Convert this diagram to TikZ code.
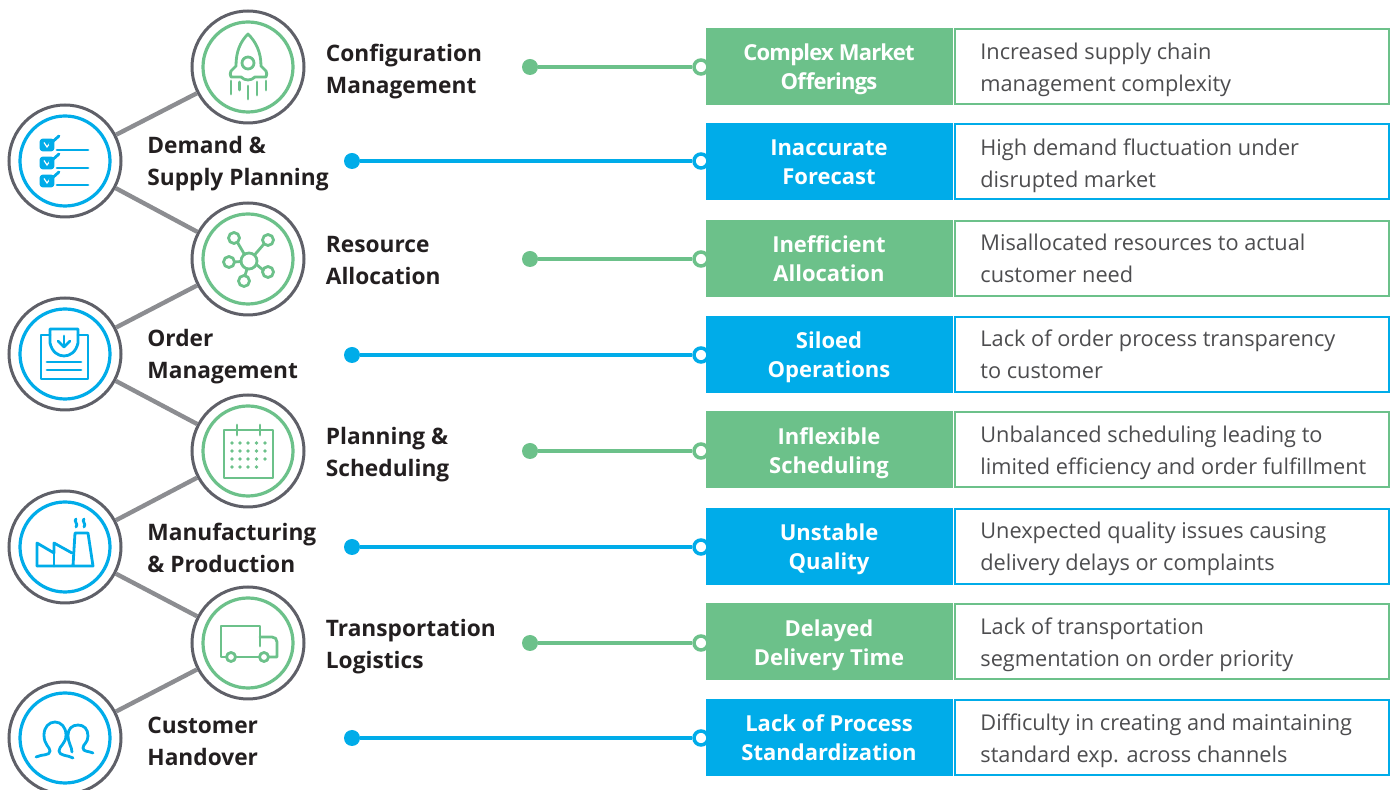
\documentclass[tikz,border=0pt]{standalone}
\usepackage{fontspec}
\setmainfont{Open Sans}
\definecolor{leafgreen}{HTML}{6CC18A}
\definecolor{skyblue}{HTML}{00ACE9}
\definecolor{ringgray}{HTML}{5F6068}
\definecolor{spokegray}{HTML}{8C8D91}
\definecolor{inkblack}{HTML}{231F20}
\definecolor{notegray}{HTML}{4D4D4F}
\tikzset{
 hub/.style={circle,draw=ringgray,line width=1.5pt,fill=white,minimum size=56pt,inner sep=0pt},
 ringg/.style={circle,draw=leafgreen,line width=1.6pt,minimum size=45pt,inner sep=0pt},
 ringb/.style={circle,draw=skyblue,line width=1.6pt,minimum size=45pt,inner sep=0pt},
 spoke/.style={draw=spokegray,line width=2.2pt},
 linkg/.style={draw=leafgreen,line width=1.75pt},
 linkb/.style={draw=skyblue,line width=1.75pt},
 dotg/.style={circle,fill=leafgreen,minimum size=8pt,inner sep=0pt},
 dotb/.style={circle,fill=skyblue,minimum size=8pt,inner sep=0pt},
 portg/.style={circle,draw=leafgreen,line width=1.75pt,fill=white,minimum size=7pt,inner sep=0pt},
 portb/.style={circle,draw=skyblue,line width=1.75pt,fill=white,minimum size=7pt,inner sep=0pt},
 evenlines/.style={execute at begin node=\vphantom{Ag},execute at end node=\vphantom{Ag}},
 stage/.style={evenlines,anchor=west,align=left,inner sep=0pt,text=inkblack,font=\fontsize{11.35}{16}\selectfont\bfseries},
 headg/.style={anchor=west,fill=leafgreen,minimum width=123.5pt,minimum height=38.5pt,inner sep=0pt},
 headb/.style={headg,fill=skyblue},
 headtext/.style={evenlines,text=white,align=center,inner sep=0pt,font=\fontsize{11}{14.7}\selectfont\bfseries},
 noteg/.style={anchor=west,draw=leafgreen,line width=1.1pt,fill=white,minimum width=217pt,minimum height=37.5pt,inner sep=0pt},
 noteb/.style={noteg,draw=skyblue},
 notetext/.style={evenlines,anchor=west,text=notegray,align=left,inner sep=0pt,font=\fontsize{10.87}{16}\selectfont},
 iconG/.style={draw=leafgreen,line width=1.4pt,line cap=round,line join=round},
 iconB/.style={draw=skyblue,line width=1.4pt,line cap=round,line join=round},
}
\begin{document}
\begin{tikzpicture}[x=0.5pt,y=-0.5pt]
\useasboundingbox (0,0) rectangle (1399,790);
% circles
\node[hub] (cfg) at (248,67) {};
\node[hub] (dem) at (65,161) {};
\node[hub] (res) at (248,259) {};
\node[hub] (ord) at (65,354) {};
\node[hub] (pln) at (248,451) {};
\node[hub] (mfg) at (65,547) {};
\node[hub] (trn) at (248,643) {};
\node[hub] (cus) at (65,738) {};
\node[ringg] at (cfg) {};
\node[ringb] at (dem) {};
\node[ringg] at (res) {};
\node[ringb] at (ord) {};
\node[ringg] at (pln) {};
\node[ringb] at (mfg) {};
\node[ringg] at (trn) {};
\node[ringb] at (cus) {};
\draw[spoke] (dem) -- (cfg);
\draw[spoke] (dem) -- (res);
\draw[spoke] (ord) -- (res);
\draw[spoke] (ord) -- (pln);
\draw[spoke] (mfg) -- (pln);
\draw[spoke] (mfg) -- (trn);
\draw[spoke] (cus) -- (trn);
% stage labels
\node[stage] (lcfg) at (325.5,72) {Configuration\\Management};
\node[stage] (ldem) at (147,164) {Demand \&\\Supply Planning};
\node[stage] (lres) at (325.5,263) {Resource\\Allocation};
\node[stage] (lord) at (147,357) {Order\\Management};
\node[stage] (lpln) at (325.5,455) {Planning \&\\Scheduling};
\node[stage] (lmfg) at (147,551) {Manufacturing\\\& Production};
\node[stage] (ltrn) at (325.5,647) {Transportation\\Logistics};
\node[stage] (lcus) at (147,744) {Customer\\Handover};
% rows
\node[dotg] (d1) at (530,67) {};
\node[dotb] (d2) at (352,161) {};
\node[dotg] (d3) at (530,259) {};
\node[dotb] (d4) at (352,355) {};
\node[dotg] (d5) at (530,451) {};
\node[dotb] (d6) at (352,547) {};
\node[dotg] (d7) at (530,643) {};
\node[dotb] (d8) at (352,738) {};
\node[portg] (p1) at (701,67) {};
\node[portb] (p2) at (701,161) {};
\node[portg] (p3) at (701,259) {};
\node[portb] (p4) at (701,355) {};
\node[portg] (p5) at (701,451) {};
\node[portb] (p6) at (701,547) {};
\node[portg] (p7) at (701,643) {};
\node[portb] (p8) at (701,738) {};
\draw[linkg] (d1) -- (p1);
\draw[linkb] (d2) -- (p2);
\draw[linkg] (d3) -- (p3);
\draw[linkb] (d4) -- (p4);
\draw[linkg] (d5) -- (p5);
\draw[linkb] (d6) -- (p6);
\draw[linkg] (d7) -- (p7);
\draw[linkb] (d8) -- (p8);
\node[noteg] (n1) at (954,66.5) {};
\node[noteb] (n2) at (954,161.5) {};
\node[noteg] (n3) at (954,258.5) {};
\node[noteb] (n4) at (954,354.5) {};
\node[noteg] (n5) at (954,449.5) {};
\node[noteb] (n6) at (954,546.5) {};
\node[noteg] (n7) at (954,641.5) {};
\node[noteb] (n8) at (954,737.5) {};
\node[notetext] (t1) at (980,70) {Increased supply chain\\management complexity};
\node[notetext] (t2) at (980,166) {High demand fluctuation under\\disrupted market};
\node[notetext] (t3) at (980,261) {Misallocated resources to actual\\customer need};
\node[notetext] (t4) at (980,357) {Lack of order process transparency\\to customer};
\node[notetext] (t5) at (980,453) {Unbalanced scheduling leading to\\limited efficiency and order fulfillment};
\node[notetext] (t6) at (980,549) {Unexpected quality issues causing\\delivery delays or complaints};
\node[notetext] (t7) at (980,645) {Lack of transportation\\segmentation on order priority};
\node[notetext] (t8) at (980,741) {Difficulty in creating and maintaining\\standard exp. across channels};
\node[headg] (h1) at (706,66.5) {};
\node[headb] (h2) at (706,161.5) {};
\node[headg] (h3) at (706,258.5) {};
\node[headb] (h4) at (706,354.5) {};
\node[headg] (h5) at (706,449.5) {};
\node[headb] (h6) at (706,546.5) {};
\node[headg] (h7) at (706,641.5) {};
\node[headb] (h8) at (706,737.5) {};
\node[headtext] (q1) at (829,69.5) {\addfontfeature{LetterSpace=-3.5}Complex Market\\\addfontfeature{LetterSpace=-3.5}Offerings};
\node[headtext] (q2) at (829,165) {Inaccurate\\Forecast};
\node[headtext] (q3) at (829,261.5) {Inefficient\\Allocation};
\node[headtext] (q4) at (829,357.5) {Siloed\\Operations};
\node[headtext] (q5) at (829,453) {Inflexible\\Scheduling};
\node[headtext] (q6) at (829,549) {Unstable\\Quality};
\node[headtext] (q7) at (829,645) {Delayed\\Delivery Time};
\node[headtext] (q8) at (829,740.5) {Lack of Process\\Standardization};
% rocket
\draw[iconG] (248,34) .. controls (240,42) and (236,52) .. (236,66) -- (231,71) .. controls (230,73) and (230,75) .. (231,77) -- (241,77) .. controls (245,81) and (251,81) .. (255,77) -- (266,77) .. controls (267,75) and (267,73) .. (266,71) -- (261,66) .. controls (261,52) and (256,42) .. (248,34) -- cycle;
\draw[iconG] (248,63) circle (6);
\draw[iconG] (231,81) -- (231,94);
\draw[iconG] (239.5,82) -- (239.5,90);
\draw[iconG] (248,86) -- (248,99);
\draw[iconG] (257,82) -- (257,95);
\draw[iconG] (266,81) -- (266,90);
% checklist
\draw[iconB,fill=skyblue,rounded corners=1pt] (41,140) rectangle (53,150);
\draw[iconB,fill=skyblue,rounded corners=1pt] (41,158) rectangle (53,168);
\draw[iconB,fill=skyblue,rounded corners=1pt] (41,176) rectangle (53,186);
\draw[draw=white,line width=0.6pt] (44,142.5) -- (47,147) -- (50,143);
\draw[draw=white,line width=0.6pt] (44,160.5) -- (47,165) -- (50,161);
\draw[draw=white,line width=0.6pt] (44,178.5) -- (47,183) -- (50,179);
\draw[iconB] (50,144) -- (59,136);
\draw[iconB] (50,162) -- (59,154);
\draw[iconB] (50,180) -- (59,172);
\draw[iconB] (57,150) -- (88,150);
\draw[iconB] (57,168) -- (88,168);
\draw[iconB] (57,185) -- (88,185);
% network
\draw[iconG] (249,261) circle (8);
\draw[iconG] (234,238) circle (5.5);
\draw[iconG] (268,240) circle (5.5);
\draw[iconG] (229,262) circle (5.5);
\draw[iconG] (268,272) circle (5.5);
\draw[iconG] (244,281) circle (5.5);
\draw[iconG] (237.5,242.5) -- (244.5,254.5);
\draw[iconG] (264,244) -- (254.5,255);
\draw[iconG] (234.5,262) -- (241,261.5);
\draw[iconG] (263,270) -- (256.5,264.5);
\draw[iconG] (245,275.5) -- (247,269);
% order sheet
\draw[iconB] (50,335) -- (41,335) -- (41,379) -- (88,379) -- (88,335) -- (78,335);
\draw[iconB] (50,329) -- (78,329) -- (78,343) .. controls (76,352) and (70,356) .. (64,356) .. controls (58,356) and (52,352) .. (50,343) -- cycle;
\draw[iconB] (64,336) -- (64,347);
\draw[iconB] (58,341) -- (64,347) -- (70,341);
\draw[iconB] (47,362) -- (81,362);
\draw[iconB] (47,370) -- (81,370);
% calendar
\draw[iconG] (224,430) rectangle (273,478);
\draw[iconG] (237,425) -- (237,435);
\draw[iconG] (260,425) -- (260,435);
\foreach \x in {232,240,248,256.5,265}
 \foreach \y in {443,451,459}
  \fill[leafgreen] (\x,\y) circle (1.9);
\foreach \x in {232,240,248,256.5}
 \fill[leafgreen] (\x,467) circle (1.9);
% factory
\draw[iconB] (37,566) -- (37,543) -- (54,553) -- (54,543) -- (72,553);
\draw[iconB] (54,553) -- (54,566);
\draw[iconB] (37,566) -- (93,566) -- (88,533) -- (75,533) -- (73,566);
\draw[iconB] (76,519) .. controls (73,521) and (79,524) .. (76,527);
\draw[iconB] (84,519) .. controls (81,521) and (87,524) .. (84,527);
% truck
\draw[iconG] (227,657) -- (221,657) -- (221,626) -- (260,626) -- (260,646);
\draw[iconG] (260,637) -- (272,637) .. controls (275,637) and (277,639) .. (277,642) -- (277,657) -- (269,657);
\draw[iconG] (236,657) -- (259,657);
\draw[iconG] (231,657) circle (4.5);
\draw[iconG] (264,657) circle (4.5);
% people
\draw[iconB] (36,757) .. controls (42,754) and (50,756) .. (50,751) .. controls (50,747) and (44,745) .. (44,735) .. controls (44,727) and (49,722) .. (55,722) .. controls (61,722) and (66,727) .. (66,735) .. controls (66,744) and (59,746) .. (59,751) .. controls (59,756) and (68,755) .. (73,758);
\draw[iconB] (72,752) .. controls (72,747) and (68,743) .. (68,735) .. controls (68,729) and (72,725) .. (78,725) .. controls (84,725) and (88,729) .. (88,736) .. controls (88,743) and (83,744) .. (83,748) .. controls (83,752) and (89,751) .. (93,753);
\end{tikzpicture}
\end{document}
